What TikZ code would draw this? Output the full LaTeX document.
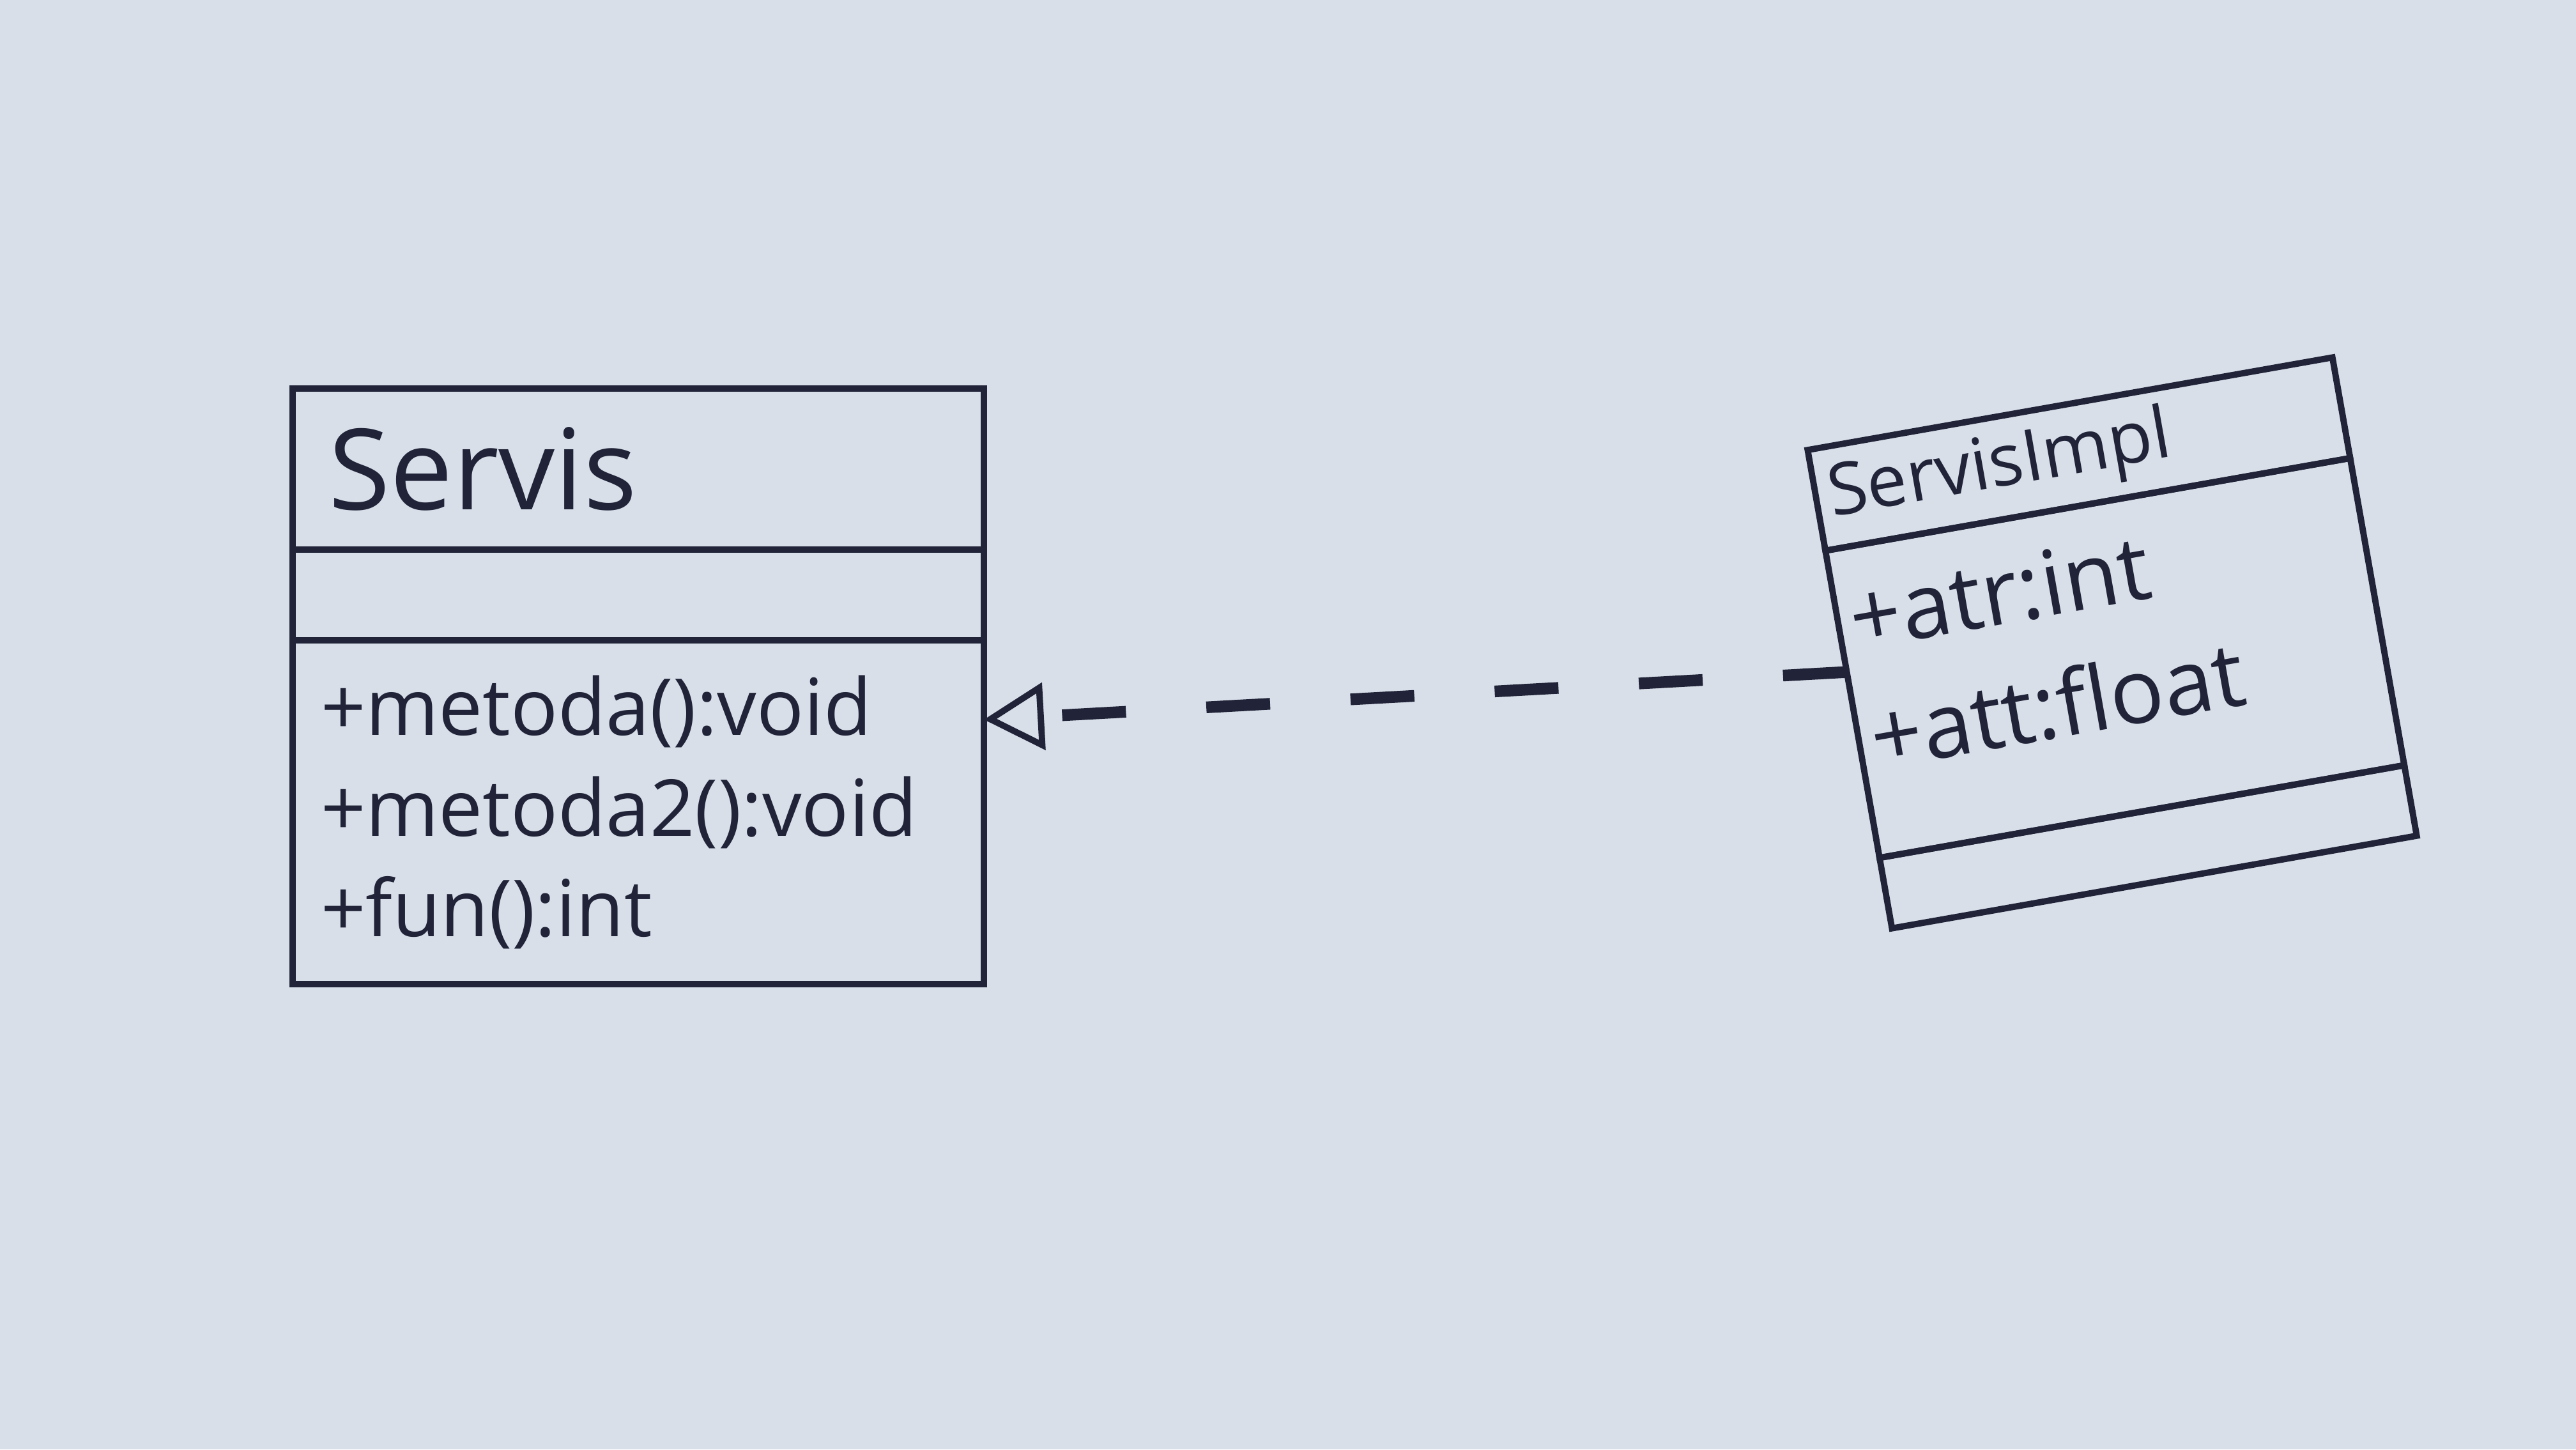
\documentclass[tikz,border=0pt]{standalone}
\usepackage{fontspec}
\setmainfont{Open Sans}
\usepackage{tikz}
\usetikzlibrary{arrows.meta,positioning}
\definecolor{paper}{RGB}{216,223,233}
\definecolor{ink}{RGB}{33,36,56}

\begin{document}
\begin{tikzpicture}[
    classpart/.style={draw=ink, line width=1.4pt, outer sep=0pt, inner ysep=0pt, align=left, text=ink},
    realize/.style={draw=ink, line width=2.6pt, dash pattern=on 0.5cm off 0.63cm,
      -{Triangle[open, length=0.47cm, width=0.52cm, line width=1.4pt]}}
  ]
  % Paper
  \fill[paper] (0,0) rectangle (20.16,11.34);
  % Interface Servis
  \node[classpart, anchor=north west, inner xsep=0.28cm, text width=4.85cm, minimum height=1.26cm,
    font=\fontsize{25}{30}\selectfont] (servis) at (2.29,8.30) {Servis};
  \node[classpart, below=0pt of servis, inner xsep=0.28cm, text width=4.85cm, minimum height=0.71cm] (servisattr) {};
  \node[classpart, below=0pt of servisattr, inner xsep=0.22cm, text width=4.97cm, minimum height=2.69cm,
    font=\fontsize{17.5}{22.4}\selectfont] (servisops) {+metoda():void\\+metoda2():void\\+fun():int};
  % Class ServisImpl, drawn tilted
  \begin{scope}[shift={(16.53,6.31)}, rotate=10, transform shape]
    \node[classpart, inner xsep=0.1cm, text width=3.97cm, minimum height=0.8cm,
      font=\fontsize{16}{19}\selectfont] (impl) at (0,1.5) {ServisImpl};
    \node[classpart, below=0pt of impl, inner xsep=0.1cm, text width=3.97cm, minimum height=2.44cm,
      font=\fontsize{20}{27}\selectfont] (implattr) {+atr:int\\+att:float\par\vspace{0.38cm}};
    \node[classpart, below=0pt of implattr, inner xsep=0.1cm, text width=3.97cm, minimum height=0.56cm] (implops) {};
  \end{scope}
  % Realization
  \draw[realize] (implattr.173) -- (servisops.15);
\end{tikzpicture}
\end{document}
